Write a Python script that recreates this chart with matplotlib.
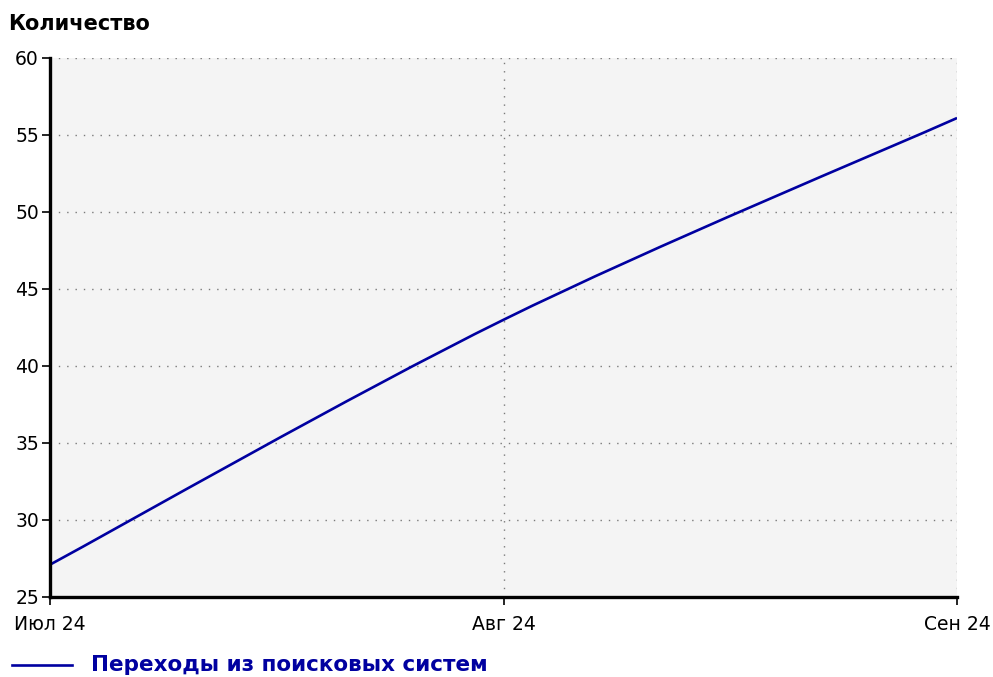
import matplotlib.pyplot as plt
from matplotlib.path import Path
from matplotlib.patches import PathPatch

# Данные
months = ["Июл 24", "Авг 24", "Сен 24"]
visits = [27.1, 43.0, 56.1]
y_ticks = [25, 30, 35, 40, 45, 50, 55, 60]
series_name = "Переходы из поисковых систем"

plt.rcParams['font.family'] = ['DejaVu Sans']

fig = plt.figure(figsize=(9.93, 6.77), dpi=100)
ax = fig.add_axes([0.0504, 0.1182, 0.9134, 0.7962])
ax.set_facecolor('#f4f4f4')

x = list(range(len(months)))

# сглаженная линия (Catmull-Rom -> кубические Безье)
px = [x[0]] + x + [x[-1]]
py = [visits[0]] + visits + [visits[-1]]
verts = [(x[0], visits[0])]
codes = [Path.MOVETO]
for i in range(1, len(px) - 2):
    c1 = (px[i] + (px[i + 1] - px[i - 1]) / 6, py[i] + (py[i + 1] - py[i - 1]) / 6)
    c2 = (px[i + 1] - (px[i + 2] - px[i]) / 6, py[i + 1] - (py[i + 2] - py[i]) / 6)
    verts += [c1, c2, (px[i + 1], py[i + 1])]
    codes += [Path.CURVE4] * 3
ax.add_patch(PathPatch(Path(verts, codes), facecolor='none', edgecolor='#0000a0',
                       linewidth=1.9, zorder=3))

ax.set_xlim(0, len(months) - 1)
ax.set_ylim(25, 60)
ax.set_xticks(x)
ax.set_xticklabels(months)
ax.set_yticks(y_ticks)

ax.grid(True, color='#7a7a7a', linestyle=(0, (1, 5)), linewidth=1.0)
for s in ['top', 'right']:
    ax.spines[s].set_visible(False)
for s in ['left', 'bottom']:
    ax.spines[s].set_linewidth(2.4)
    ax.spines[s].set_color('black')
    ax.spines[s].set_zorder(4)

ax.tick_params(axis='both', labelsize=13.5, colors='black', length=6, width=1.2)
ax.tick_params(axis='x', pad=7)
ax.tick_params(axis='y', pad=2)

fig.text(0.008, 0.965, "Количество", fontsize=15, fontweight='bold', ha='left', va='center')

# Легенда
ly = 1 - 665 / 677
fig.lines.append(plt.Line2D([0.012, 0.073], [ly, ly], transform=fig.transFigure,
                            color='#0000a0', linewidth=1.9))
fig.text(0.092, ly, series_name, fontsize=15.5, fontweight='bold',
         color='#0000a0', ha='left', va='center')

fig.savefig("out.png", dpi=100)
